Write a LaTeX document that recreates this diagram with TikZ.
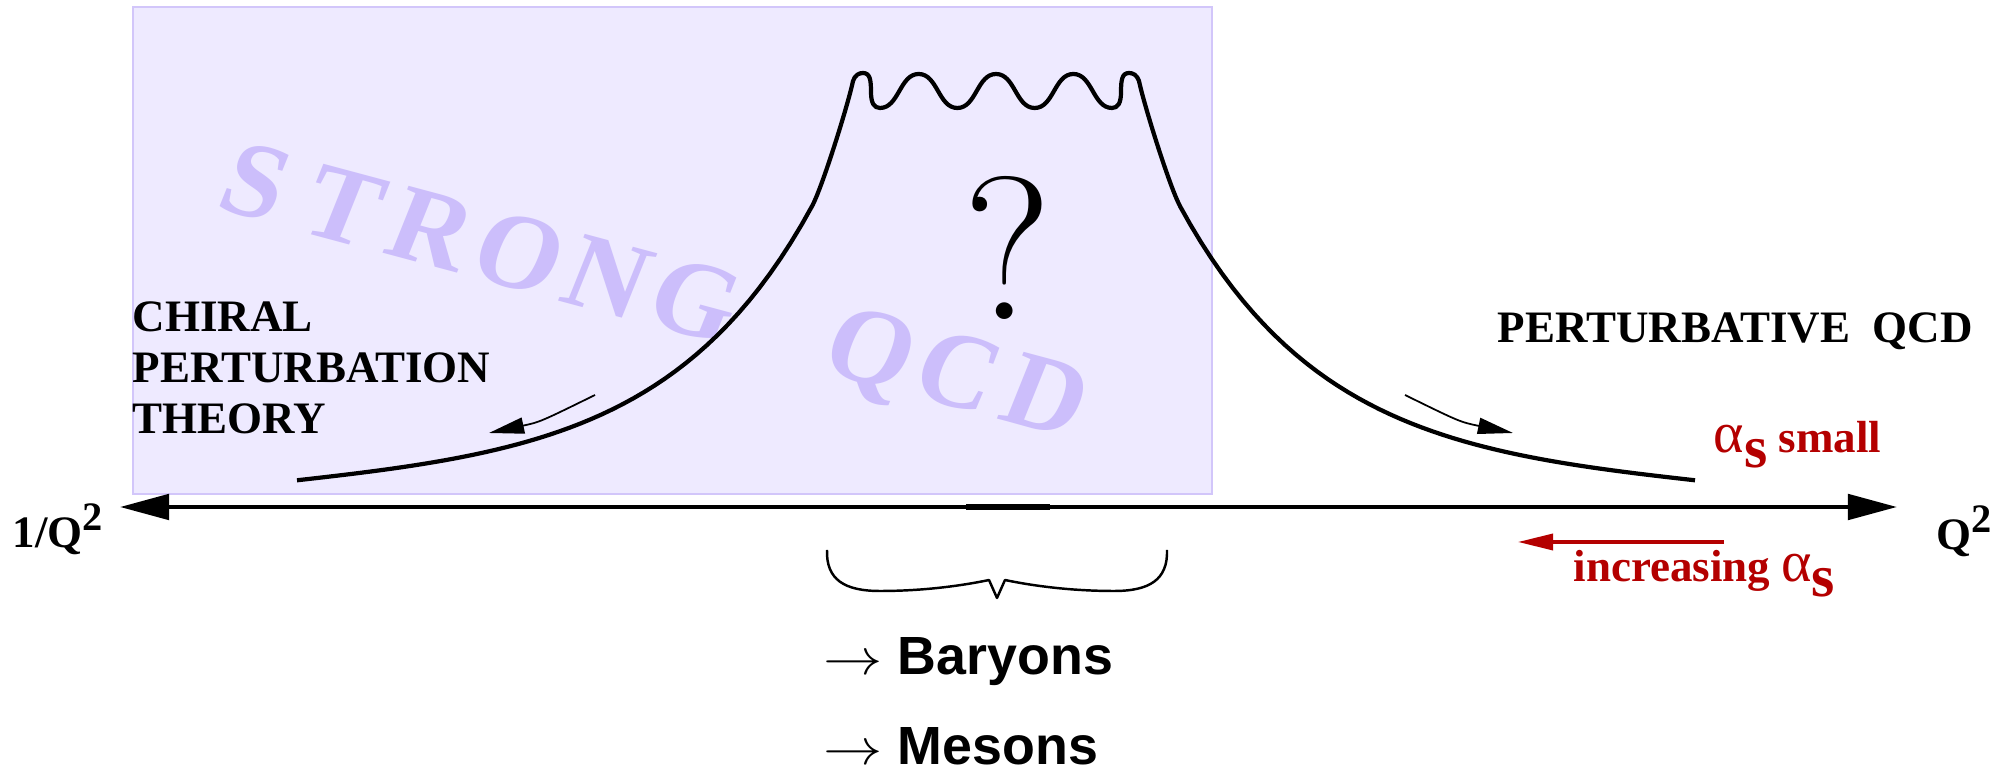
\documentclass[tikz,border=0pt]{standalone}
\usepackage{fontspec}
\setmainfont{Liberation Serif}
\setsansfont{Liberation Sans}
\newfontfamily\cmfont{Latin Modern Roman}
\usepackage{xcolor}
\usepackage{tikz}
\usetikzlibrary{arrows.meta,positioning}
\definecolor{boxfill}{RGB}{238,234,255}
\definecolor{boxline}{RGB}{210,198,250}
\definecolor{strongtxt}{RGB}{204,190,251}
\definecolor{asred}{RGB}{180,0,0}

\begin{document}
\begin{tikzpicture}[
    x=0.1mm,y=-0.1mm,
    >={Triangle[length=10pt,width=4.6pt]},
    axis/.style={line width=1.25pt,{Triangle[length=14pt,width=7.2pt]}-{Triangle[length=14pt,width=7.2pt]}},
    curve/.style={line width=1.2pt,line join=round},
    hint/.style={->,line width=0.5pt},
    region/.style={fill=boxfill,draw=boxline,line width=0.6pt},
    caps/.style={font=\fontsize{12.8}{14.5}\selectfont\bfseries,inner sep=0pt},
    redcaps/.style={caps,text=asred},
    strongletter/.style={font=\fontsize{31}{31}\selectfont\bfseries,text=strongtxt,
      inner sep=0pt,text height=0.66em,text depth=0pt,rotate=-15,xslant=0.12},
    hadron/.style={font=\sffamily\bfseries\fontsize{15.3}{15.3}\selectfont,inner sep=0pt}
  ]
    \useasboundingbox (0,0) rectangle (2016,771);

    % strong coupling region
    \draw[region] (133,7) rectangle (1212,494);
    \foreach \ch/\i in {S/0,T/1,R/2,O/3,N/4,G/5,Q/7,C/8,D/9}
      \node[strongletter] (ltr\i) at ({247+87.9*\i},{205+23.6*\i}) {\ch};

    % energy axis
    \coordinate (axL) at (120,507);
    \coordinate (axR) at (1897,507);
    \draw[axis] (axL) -- (axR);
    \draw[line width=1.5pt] (966,507) -- (1050,507);
    \node[caps,anchor=base west] (qlow) at (12,548)
      {1/Q\raisebox{5pt}{\fontsize{11.5}{11.5}\selectfont 2}};
    \node[caps,anchor=base west] (qhigh) at (1936,550)
      {Q\raisebox{5pt}{\fontsize{11.5}{11.5}\selectfont 2}};

    % coupling curve
    \draw[curve] plot[domain=297:812,samples=50]
        (\x,{480-37*exp(0.0067*(\x-513))+9*exp(-0.006*(\x-297))})
      .. controls (822,188) and (848,105) .. (853,81)
      .. controls (855,75) and (859,73) .. (863,73)
      .. controls (870,73) and (871,80) .. (871,92)
      .. controls (871,103) and (874,108) .. (880,108)
      \foreach \k in {1,2,3} {
        .. controls +(19,0) and +(-19,0) .. ++(38.67,-34)
        .. controls +(19,0) and +(-19,0) .. ++(38.67,34) }
      .. controls (1118,108) and (1121,103) .. (1121,92)
      .. controls (1121,80) and (1122,73) .. (1129,73)
      .. controls (1133,73) and (1137,75) .. (1139,81)
      .. controls (1144,105) and (1170,188) .. (1180,206)
      -- plot[domain=1180:1695,samples=50]
        (\x,{480-37*exp(0.0067*(1479-\x))+9*exp(-0.006*(1695-\x))});
    \node[font=\cmfont\fontsize{58}{58}\selectfont,inner sep=0pt] (qmark) at (1008,248) {?};

    \coordinate (lfrom) at (595,395);
    \coordinate (lto) at (489,433);
    \coordinate (rfrom) at (1405,395);
    \coordinate (rto) at (1513,433);
    \draw[hint] (lfrom) .. controls (540,422) .. (lto);
    \draw[hint] (rfrom) .. controls (1460,422) .. (rto);

    % regime labels
    \node[caps,anchor=north west,align=left] (chpt) at (132,301)
      {CHIRAL\\PERTURBATION\\THEORY};
    \node[caps,anchor=base west] (pqcd) at (1497,343) {PERTURBATIVE\ \ QCD};
    \node[redcaps,anchor=base west] (asmall) at (1713,453)
      {{\mdseries\fontsize{16.5}{16.5}\selectfont α}\raisebox{-4pt}{\fontsize{17}{17}\selectfont s} small};
    \coordinate (incS) at (1724,542);
    \coordinate (incE) at (1518,542);
    \draw[->,draw=asred,fill=asred,line width=0.9pt] (incS) -- (incE);
    \node[redcaps,anchor=base west] (incr) at (1573,582)
      {increasing {\mdseries\fontsize{16.5}{16.5}\selectfont α}\raisebox{-4pt}{\fontsize{17}{17}\selectfont s}};

    % bound states
    \draw[line width=0.7pt,line join=round] (827,550) .. controls (826,580) and (845,591) .. (880,591)
      .. controls (930,591) and (970,584) .. (989,580) -- (997,598) -- (1005,580)
      .. controls (1024,584) and (1064,591) .. (1114,591)
      .. controls (1149,591) and (1168,580) .. (1167,550);
    \node[hadron,anchor=base west] (bary) at (823,675)
      {\scalebox{1.17}[1]{$\rightarrow$}\ Baryons};
    \node[hadron,anchor=base west] (meso) at (823,765)
      {\scalebox{1.17}[1]{$\rightarrow$}\ Mesons};
  \end{tikzpicture}
\end{document}
